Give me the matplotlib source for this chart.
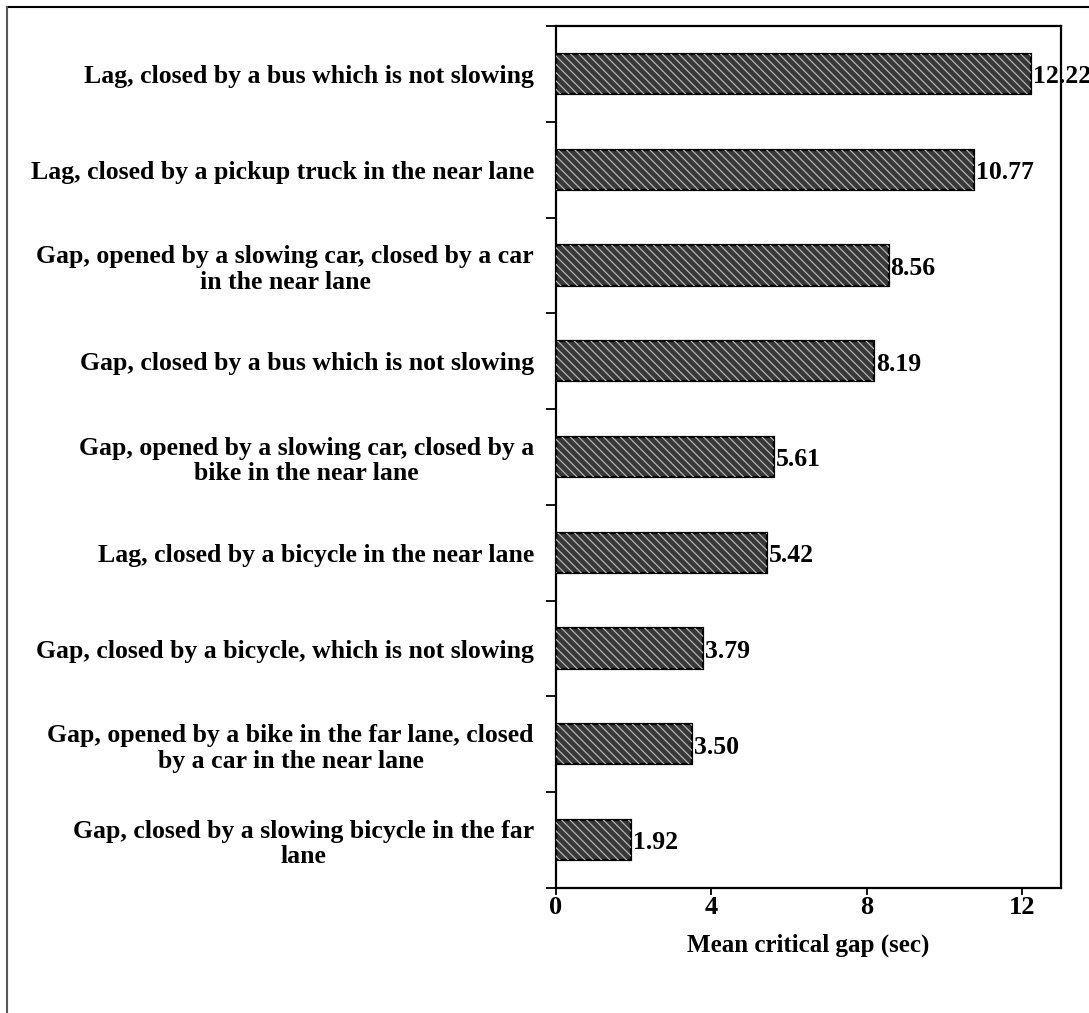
import matplotlib
matplotlib.use("Agg")
import matplotlib.pyplot as plt
from matplotlib.lines import Line2D
import numpy as np

categories = [
    "Lag, closed by a bus which is not slowing",
    "Lag, closed by a pickup truck in the near lane",
    "Gap, opened by a slowing car, closed by a car\nin the near lane",
    "Gap, closed by a bus which is not slowing",
    "Gap, opened by a slowing car, closed by a\nbike in the near lane",
    "Lag, closed by a bicycle in the near lane",
    "Gap, closed by a bicycle, which is not slowing",
    "Gap, opened by a bike in the far lane, closed\nby a car in the near lane",
    "Gap, closed by a slowing bicycle in the far\nlane",
]
gap_values = [12.22, 10.77, 8.56, 8.19, 5.61, 5.42, 3.79, 3.50, 1.92]
value_labels = ["12.22", "10.77", "8.56", "8.19", "5.61", "5.42", "3.79", "3.50", "1.92"]
x_ticks = [0, 4, 8, 12]
x_label = "Mean critical gap (sec)"

plt.rcParams["font.family"] = ["Liberation Serif", "DejaVu Serif"]
plt.rcParams["font.weight"] = "bold"
plt.rcParams["hatch.linewidth"] = 0.9

W, H = 1089, 1013
fig = plt.figure(figsize=(W / 100, H / 100), dpi=100)
ax = fig.add_axes([556 / W, 1 - 888 / H, (1061 - 556) / W, (888 - 26) / H])

n = len(categories)
ypos = np.arange(n)

# solid dark fill with a black outline
ax.barh(ypos, gap_values, height=0.42, color="#383838", edgecolor="black",
        linewidth=1.6, zorder=2)
# light diagonal texture over the fill
ax.barh(ypos, gap_values, height=0.42, color="none", edgecolor="#b4b4b4",
        linewidth=0, hatch="\\\\\\\\", zorder=3)

for y, v, lab in zip(ypos, gap_values, value_labels):
    ax.text(v + 0.05, y + 0.03, lab, va="center", ha="left", fontsize=18.5,
            fontweight="bold", clip_on=False, zorder=4)

ax.set_xlim(0, 13)
ax.set_ylim(n - 0.5, -0.5)
ax.set_xticks(x_ticks)
ax.set_xticklabels([str(t) for t in x_ticks], fontsize=19, fontweight="bold")
ax.set_xlabel(x_label, fontsize=18, fontweight="bold", labelpad=10)

# category labels centred between boundary ticks
ax.set_yticks(ypos)
ax.set_yticklabels(categories, fontsize=18.5, fontweight="bold",
                   multialignment="center", linespacing=1.15)
ax.tick_params(axis="y", which="major", length=0, pad=16)
ax.set_yticks(np.arange(n + 1) - 0.5, minor=True)
ax.tick_params(axis="y", which="minor", length=7, width=1.3, direction="out")
ax.tick_params(axis="x", which="major", length=5, width=1.3, direction="out",
               pad=1)

for s in ax.spines.values():
    s.set_linewidth(1.6)
    s.set_color("black")

# outer frame around the figure
fig.add_artist(Line2D([7 / W, 1], [1 - 7 / H, 1 - 7 / H], color="black",
                      linewidth=1.5, transform=fig.transFigure))
fig.add_artist(Line2D([7 / W, 7 / W], [0, 1 - 7 / H], color="#555555",
                      linewidth=1.5, transform=fig.transFigure))

fig.savefig("out.png", dpi=100, facecolor="white")
